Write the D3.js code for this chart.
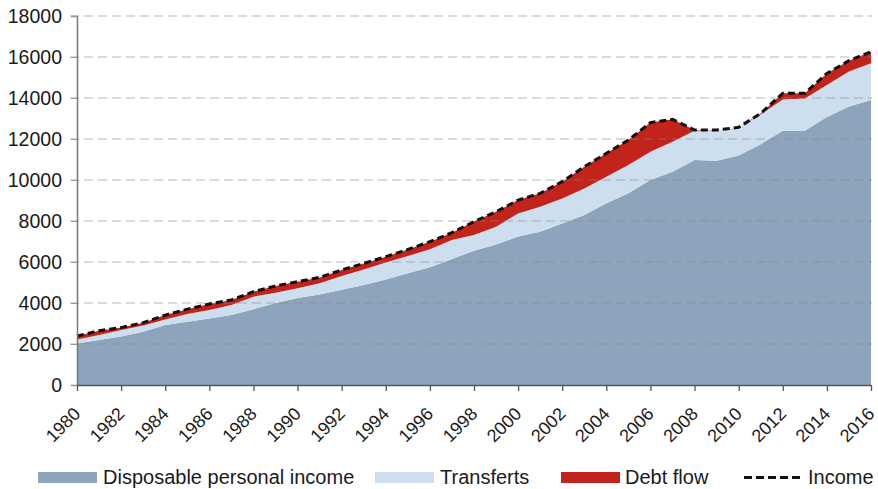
<!DOCTYPE html>
<html><head><meta charset="utf-8">
<script src="https://cdn.jsdelivr.net/npm/d3@7"></script>
<style>
body{margin:0;background:#fff;}
text{font-family:"Liberation Sans",Arial,sans-serif;fill:#1a1a1a;}
</style></head>
<body><svg id="chart" width="878" height="489"></svg>
<script>
const years = d3.range(1980, 2017);
const disposableIncome = [2030,2190,2360,2600,2930,3090,3250,3410,3700,4000,4250,4420,4650,4880,5150,5450,5750,6150,6550,6850,7250,7480,7880,8290,8860,9350,10000,10400,10970,10940,11200,11750,12400,12400,13070,13580,13900];
const transfers = [190,250,320,300,270,370,410,490,610,500,470,540,670,760,820,840,870,920,770,870,1120,1220,1220,1300,1300,1380,1380,1470,1430,1500,1370,1450,1530,1580,1560,1710,1790];
const debtFlow = [170,210,120,140,210,240,290,250,240,330,320,290,290,290,290,320,370,360,650,730,650,650,820,1060,1140,1220,1420,1090,40,0,0,50,300,250,570,530,570];
const income = [2390,2650,2800,3040,3410,3700,3950,4150,4550,4830,5040,5250,5610,5930,6260,6610,6990,7430,7970,8450,9020,9350,9920,10650,11300,11950,12800,12960,12440,12440,12570,13250,14230,14230,15200,15820,16260];
const yTicks = [0,2000,4000,6000,8000,10000,12000,14000,16000,18000];
const xTickYears = d3.range(1980, 2017, 2);
const seriesNames = ["Disposable personal income","Transferts","Debt flow","Income"];
const colors = ["#8ea4bd","#cddfef","#c2241b"];

const svg = d3.select("#chart");
const x = d3.scaleLinear().domain([1980,2016]).range([77,871]);
const y = d3.scaleLinear().domain([0,18000]).range([385,16]);

const table = years.map((yr,i)=>({year:yr, dpi:disposableIncome[i], tr:transfers[i], debt:debtFlow[i]}));
const stack = d3.stack().keys(["dpi","tr","debt"]);
const layers = stack(table);

const area = d3.area().x(d=>x(d.data.year)).y0(d=>y(d[0])).y1(d=>y(d[1]));
svg.append("g").selectAll("path").data(layers).join("path")
  .attr("d",area).attr("fill",(d,i)=>colors[i]);

// grid (drawn over the areas, semi-transparent)
svg.append("g").selectAll("line").data(yTicks.filter(d=>d>0)).join("line")
  .attr("x1",70).attr("x2",872).attr("y1",d=>y(d)).attr("y2",d=>y(d))
  .attr("stroke","#888").attr("stroke-opacity",0.4).attr("stroke-width",1.3).attr("stroke-dasharray","9,5");

// income line
svg.append("path").datum(years.map((yr,i)=>[yr,income[i]]))
  .attr("d",d3.line().x(d=>x(d[0])).y(d=>y(d[1])))
  .attr("fill","none").attr("stroke","#111").attr("stroke-width",3)
  .attr("stroke-dasharray","7,4");

// y axis
const yAxis = svg.append("g").attr("transform","translate(77,0)")
  .call(d3.axisLeft(y).tickValues(yTicks).tickFormat(d3.format("d")).tickSize(6).tickPadding(9));
yAxis.select(".domain").attr("stroke","#777").attr("stroke-width",1.5);
yAxis.selectAll(".tick line").attr("stroke","#999");
yAxis.selectAll("text").attr("font-size",19.5).attr("fill","#1a1a1a")
  .attr("font-family","Liberation Sans, Arial, sans-serif");

// x axis
const xAxis = svg.append("g").attr("transform","translate(0,385)")
  .call(d3.axisBottom(x).tickValues(xTickYears).tickFormat(d3.format("d")).tickSize(6).tickSizeOuter(0));
xAxis.select(".domain").attr("stroke","#555").attr("stroke-width",1.5);
xAxis.selectAll(".tick line").attr("stroke","#555").attr("stroke-width",1.3);
xAxis.selectAll("text").attr("font-size",18).attr("fill","#1a1a1a")
  .attr("font-family","Liberation Sans, Arial, sans-serif")
  .attr("text-anchor","end").attr("dy",0)
  .attr("transform","translate(4,30) rotate(-45)").attr("x",0).attr("y",0);

// legend
const legend = svg.append("g");
const items = [
  {sx:38, tx:103, type:"rect", c:colors[0]},
  {sx:375, tx:440, type:"rect", c:colors[1]},
  {sx:561, tx:625, type:"rect", c:colors[2]},
  {sx:744, tx:808, type:"line", c:"#111"}
];
items.forEach((it,i)=>{
  if(it.type==="rect"){
    legend.append("rect").attr("x",it.sx).attr("y",472).attr("width",59).attr("height",11).attr("fill",it.c);
  } else {
    legend.append("line").attr("x1",it.sx).attr("x2",it.sx+59).attr("y1",477.5).attr("y2",477.5)
      .attr("stroke",it.c).attr("stroke-width",3).attr("stroke-dasharray","8,4");
  }
  legend.append("text").attr("x",it.tx).attr("y",484).attr("font-size",20).text(seriesNames[i]);
});
</script></body></html>
